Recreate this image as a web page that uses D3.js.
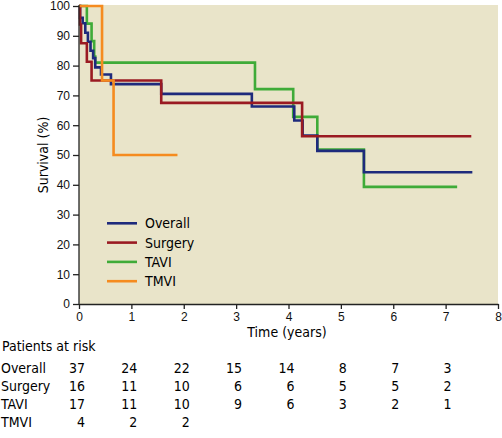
<!DOCTYPE html>
<meta charset="utf-8">
<title>Survival</title>
<style>

body {
  margin: 0;
  background: #fff;
}

svg {
  font-family: "Liberation Sans Narrow", "DejaVu Sans Condensed", "Arial Narrow", sans-serif;
}

.axis path,
.axis line {
  stroke: #222;
  stroke-width: 1.3px;
}

.axis text {
  font-size: 12px;
  fill: #111;
}

</style>
<body>
<script src="https://d3js.org/d3.v7.min.js"></script>
<script>

// step data: time (years) and survival (%) after each drop
var overallTime = [0, 0.02, 0.07, 0.12, 0.17, 0.22, 0.27, 0.31, 0.42, 0.61, 1.57, 3.30, 4.11, 4.27, 4.55, 5.44, 7.51];
var overallSurv = [100, 96, 94.2, 91, 88, 85, 82.5, 79.4, 77, 73.8, 70.5, 66.3, 61.6, 56.5, 51.4, 44.2, 44.2];

var surgeryTime = [0, 0.02, 0.04, 0.15, 0.24, 1.57, 4.26, 7.49];
var surgerySurv = [100, 93.8, 87.5, 81.3, 75, 67.5, 56.3, 56.3];

var taviTime = [0, 0.15, 0.24, 0.29, 0.31, 3.36, 4.09, 4.55, 5.44, 7.22];
var taviSurv = [100, 94.1, 88.2, 83, 81, 72.1, 62.8, 51.8, 39.3, 39.3];

var tmviTime = [0, 0.44, 0.66, 1.88];
var tmviSurv = [100, 75, 50, 50];

var groups = ["Overall", "Surgery", "TAVI", "TMVI"];
var colors = ["#1e2a7c", "#9a1a22", "#3fab38", "#f58b1f"];

var riskTimes = [0, 1, 2, 3, 4, 5, 6, 7];
var riskOverall = [37, 24, 22, 15, 14, 8, 7, 3];
var riskSurgery = [16, 11, 10, 6, 6, 5, 5, 2];
var riskTavi = [17, 11, 10, 9, 6, 3, 2, 1];
var riskTmvi = [4, 2, 2];

var xTicks = [0, 1, 2, 3, 4, 5, 6, 7, 8];
var yTicks = [0, 10, 20, 30, 40, 50, 60, 70, 80, 90, 100];

var margin = {top: 6, right: 4, left: 79},
    width = 502,
    height = 438,
    plotW = 498 - margin.left,
    plotH = 304 - margin.top;

var x = d3.scaleLinear().domain([0, 8]).range([0, plotW]);
var y = d3.scaleLinear().domain([0, 100]).range([plotH, 0]);

var svg = d3.select("body").append("svg")
    .attr("width", width)
    .attr("height", height);

var g = svg.append("g")
    .attr("transform", "translate(" + margin.left + "," + margin.top + ")");

g.append("rect")
    .attr("y", -1)
    .attr("width", plotW)
    .attr("height", plotH + 1)
    .attr("fill", "#e9e4c9");

var series = [
  {name: "TAVI", t: taviTime, s: taviSurv, c: colors[2]},
  {name: "Overall", t: overallTime, s: overallSurv, c: colors[0]},
  {name: "Surgery", t: surgeryTime, s: surgerySurv, c: colors[1]},
  {name: "TMVI", t: tmviTime, s: tmviSurv, c: colors[3]}
];

var line = d3.line()
    .x(function(d) { return x(d[0]); })
    .y(function(d) { return y(d[1]); })
    .curve(d3.curveStepAfter);

g.selectAll(".km")
    .data(series)
  .enter().append("path")
    .attr("class", "km")
    .attr("fill", "none")
    .attr("stroke", function(d) { return d.c; })
    .attr("stroke-width", 2.6)
    .attr("d", function(d) { return line(d3.zip(d.t, d.s)); });

var xAxis = d3.axisBottom(x).tickValues(xTicks).tickSize(5).tickSizeOuter(0).tickPadding(3);
var yAxis = d3.axisLeft(y).tickValues(yTicks).tickSize(6).tickSizeOuter(0).tickPadding(3);

g.append("g")
    .attr("class", "x axis")
    .attr("transform", "translate(0," + plotH + ")")
    .call(xAxis);

g.append("g")
    .attr("class", "y axis")
    .call(yAxis);

g.select(".y.axis .domain").attr("d", "M0," + (plotH) + "V-1");

svg.append("text")
    .attr("transform", "translate(48," + (margin.top + plotH / 2) + ") rotate(-90)")
    .attr("text-anchor", "middle")
    .style("font-size", "14px")
    .text("Survival (%)");

svg.append("text")
    .attr("x", 287)
    .attr("y", 337)
    .attr("text-anchor", "middle")
    .style("font-size", "14px")
    .text("Time (years)");

// legend
var legend = g.selectAll(".legend")
    .data(groups)
  .enter().append("g")
    .attr("class", "legend")
    .attr("transform", function(d, i) { return "translate(28," + (223.3 + i * 19.3 - margin.top) + ")"; });

legend.append("line")
    .attr("x1", 0)
    .attr("x2", 30)
    .attr("stroke", function(d, i) { return colors[i]; })
    .attr("stroke-width", 2.6);

legend.append("text")
    .attr("x", 38)
    .attr("y", 5)
    .style("font-size", "14px")
    .text(function(d) { return d; });

// patients at risk table
svg.append("text")
    .attr("x", 2)
    .attr("y", 351)
    .style("font-size", "14px")
    .text("Patients at risk");

var riskRows = [riskOverall, riskSurgery, riskTavi, riskTmvi];

var rows = svg.selectAll(".risk")
    .data(riskRows)
  .enter().append("g")
    .attr("class", "risk")
    .attr("transform", function(d, i) { return "translate(0," + (372.5 + i * 18.2) + ")"; })
    .style("font-size", "14px");

rows.append("text")
    .attr("x", 1)
    .text(function(d, i) { return groups[i]; });

rows.selectAll(".n")
    .data(function(d) { return d; })
  .enter().append("text")
    .attr("class", "n")
    .attr("text-anchor", "end")
    .attr("x", function(d, i) { return margin.left + x(riskTimes[i]) + 6; })
    .text(function(d) { return d; });

</script>
</body>
